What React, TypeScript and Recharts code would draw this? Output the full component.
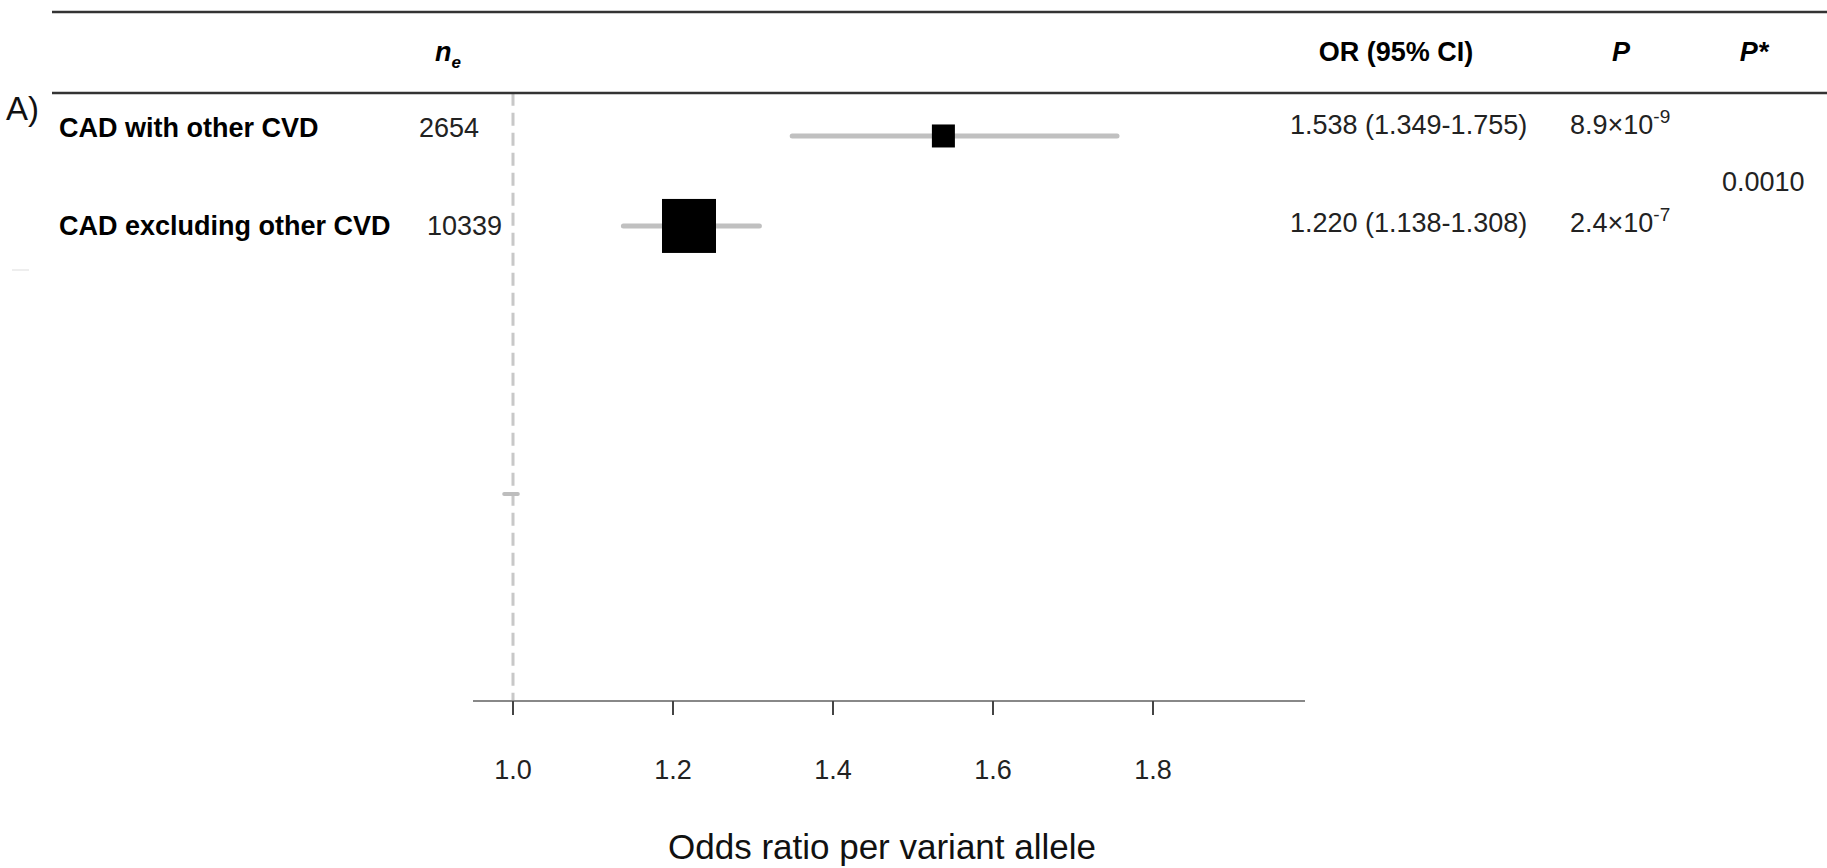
import React from "react";
import {
  ComposedChart,
  Line,
  ReferenceLine,
  Scatter,
  XAxis,
  YAxis,
  ZAxis,
} from "recharts";

// table / forest data
const labels = ["CAD with other CVD", "CAD excluding other CVD"];
const nEff = [2654, 10339];
const orEst = [1.538, 1.22];
const ciLow = [1.349, 1.138];
const ciHigh = [1.755, 1.308];
const pMantissa = [8.9, 2.4];
const pExponent = [-9, -7];
const pHet = "0.0010";
const rowPos = [1, 2];
// faint leftover interval near OR = 1
const ghostRow = 4.98;
const ghostCI = [0.989, 1.006];
const xTicks = [1.0, 1.2, 1.4, 1.6, 1.8];
const axisTitle = "Odds ratio per variant allele";

const W = 1827;
const H = 868;
const FONT = "'Liberation Sans', Arial, sans-serif";
const Y_DOMAIN: [number, number] = [0, 7.28];
const RULE_ROW = 0.52;
const textShift = [-9, -1];
const neRight = [479, 502];

const points = labels.map((_, i) => ({ or: orEst[i], row: rowPos[i], ne: nEff[i] }));
const ciSegments = labels.map((_, i) => [
  { or: ciLow[i], row: rowPos[i] },
  { or: ciHigh[i], row: rowPos[i] },
]);
const ghostSegment = [
  { or: ghostCI[0], row: ghostRow },
  { or: ghostCI[1], row: ghostRow },
];

const SquareMarker = (props: any) => {
  const { cx, cy, size } = props;
  if (cx == null || cy == null) return null;
  const s = Math.sqrt(size ?? 0);
  return <rect x={cx - s / 2} y={cy - s / 2} width={s} height={s} fill="#000" />;
};

const TableTick = (props: any) => {
  const { y, payload } = props;
  const i = rowPos.indexOf(payload.value);
  if (i < 0) {
    return (
      <text x={1722} y={y + 10} fontFamily={FONT} fontSize={27} fill="#222">
        {pHet}
      </text>
    );
  }
  const base = y + textShift[i] + 10;
  return (
    <g fontFamily={FONT} fontSize={27}>
      <text x={59} y={base} fontWeight="bold" fill="#000">
        {labels[i]}
      </text>
      <text x={neRight[i]} y={base} textAnchor="end" fill="#222">
        {nEff[i]}
      </text>
      <text x={1290} y={base - 3} fill="#222">
        {`${orEst[i].toFixed(3)} (${ciLow[i].toFixed(3)}-${ciHigh[i].toFixed(3)})`}
      </text>
      <text x={1570} y={base - 3} fill="#222">
        {`${pMantissa[i].toFixed(1)}×10`}
        <tspan dy={-11} fontSize={19}>
          {`${pExponent[i]}`}
        </tspan>
      </text>
    </g>
  );
};

const AxisTitle = (props: any) => {
  const { viewBox } = props;
  if (!viewBox) return null;
  return (
    <text
      x={viewBox.x + viewBox.width / 2 - 7}
      y={viewBox.y + viewBox.height - 9}
      textAnchor="middle"
      fontFamily={FONT}
      fontSize={35}
      fill="#111"
    >
      {axisTitle}
    </text>
  );
};

export default function App() {
  return (
    <div style={{ position: "relative", width: W, height: H, background: "#fff" }}>
      <style>{"body{margin:0}"}</style>
      <ComposedChart
        width={W}
        height={H}
        margin={{ top: 46, right: 522, bottom: 0, left: 472 }}
        style={{ position: "absolute", left: 0, top: 0 }}
      >
        <XAxis
          type="number"
          dataKey="or"
          domain={[0.95, 1.99]}
          allowDataOverflow
          ticks={xTicks}
          tickFormatter={(v: number) => v.toFixed(1)}
          height={167}
          tickSize={14}
          tickMargin={45}
          axisLine={{ stroke: "#888", strokeWidth: 2 }}
          tickLine={{ stroke: "#444", strokeWidth: 2 }}
          tick={{ fontFamily: FONT, fontSize: 27, fill: "#222" }}
          label={<AxisTitle />}
        />
        <YAxis
          type="number"
          dataKey="row"
          domain={Y_DOMAIN}
          reversed
          allowDataOverflow
          width={1}
          ticks={[...rowPos, (rowPos[0] + rowPos[1]) / 2]}
          interval={0}
          axisLine={false}
          tickLine={false}
          tick={<TableTick />}
        />
        <ZAxis type="number" dataKey="ne" domain={["dataMin", "dataMax"]} range={[529, 2916]} />
        <ReferenceLine
          segment={[
            { x: 1, y: RULE_ROW },
            { x: 1, y: Y_DOMAIN[1] },
          ]}
          stroke="#c8c8c8"
          strokeWidth={3}
          strokeDasharray="13 7"
        />
        {ciSegments.map((seg, i) => (
          <Line
            key={i}
            data={seg}
            dataKey="row"
            stroke="#c0c0c0"
            strokeWidth={5}
            strokeLinecap="round"
            dot={false}
            activeDot={false}
            isAnimationActive={false}
          />
        ))}
        <Line
          data={ghostSegment}
          dataKey="row"
          stroke="#bdbdbd"
          strokeWidth={4}
          strokeLinecap="round"
          dot={false}
          activeDot={false}
          isAnimationActive={false}
        />
        <Scatter data={points} shape={<SquareMarker />} isAnimationActive={false} />
      </ComposedChart>

      <svg
        width={W}
        height={H}
        style={{ position: "absolute", left: 0, top: 0, pointerEvents: "none" }}
        fontFamily={FONT}
      >
        <line x1={52} x2={W} y1={12} y2={12} stroke="#333" strokeWidth={2.5} />
        <line x1={52} x2={W} y1={93} y2={93} stroke="#333" strokeWidth={2.5} />
        <line x1={12} x2={29} y1={270} y2={270} stroke="#eee" strokeWidth={2} />
        <text x={435} y={61} fontSize={27} fontWeight="bold" fontStyle="italic" fill="#000">
          n
          <tspan dy={7} fontSize={17}>
            e
          </tspan>
        </text>
        <text x={1396} y={61} fontSize={27} fontWeight="bold" textAnchor="middle" fill="#000">
          OR (95% CI)
        </text>
        <text x={1621} y={61} fontSize={27} fontWeight="bold" fontStyle="italic" textAnchor="middle" fill="#000">
          P
        </text>
        <text x={1754} y={61} fontSize={27} fontWeight="bold" fontStyle="italic" textAnchor="middle" fill="#000">
          P*
        </text>
        <text x={6} y={120} fontSize={33} fill="#111">
          A)
        </text>
      </svg>
    </div>
  );
}
